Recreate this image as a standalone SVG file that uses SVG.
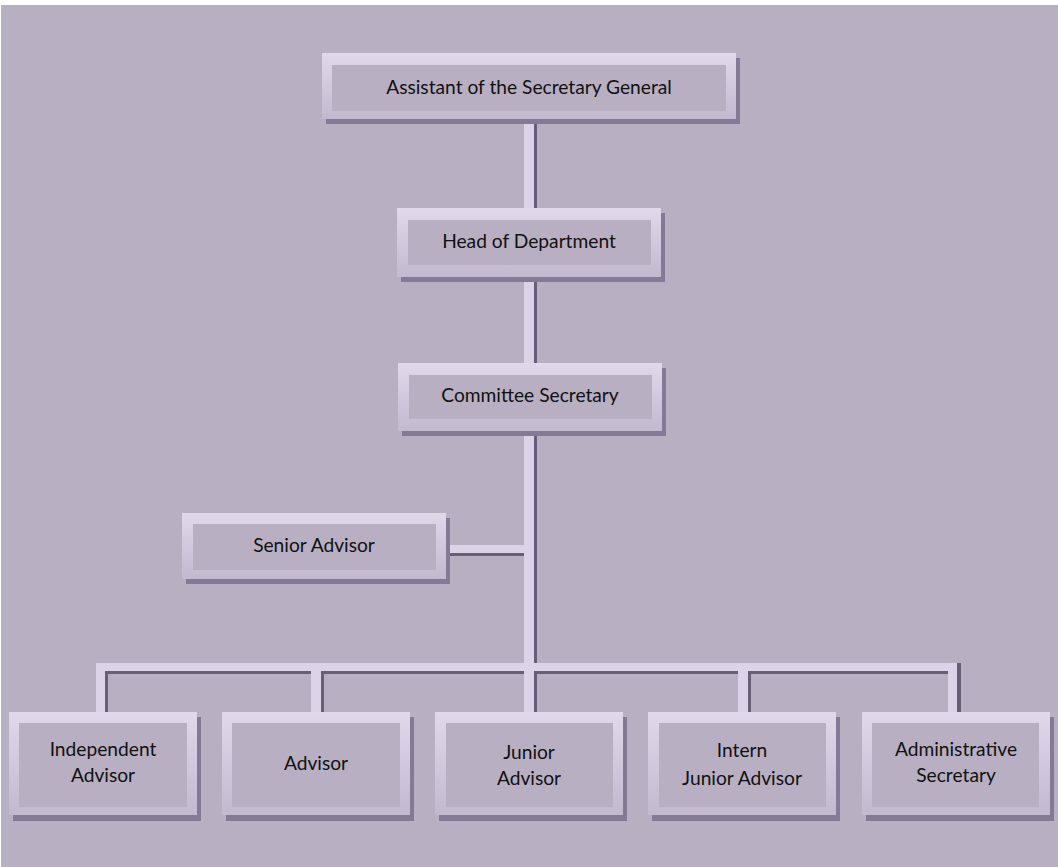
<svg xmlns="http://www.w3.org/2000/svg" width="1058" height="867" viewBox="0 0 1058 867">
<style>
.shadow{fill:#857a96}
.frame{fill:url(#fg)}
.inner{fill:#b8afc3}
.lt{fill:#ddd3e8}
.dk{fill:#695d78}
text{font-family:Lato,"Liberation Sans",sans-serif;font-size:19.2px;fill:#111;text-anchor:middle}
</style>
<defs>
<linearGradient id="fg" x1="0" y1="0" x2="0" y2="1">
<stop offset="0" stop-color="#e2d8ec"/>
<stop offset="1" stop-color="#c3b9cf"/>
</linearGradient>
</defs>
<rect x="1" y="5" width="1057" height="862" fill="#b8afc3"/>
<g id="connectors">
<rect class="dk" x="534" y="119" width="3" height="593"/>
<rect class="lt" x="524" y="119" width="10" height="593"/>
<rect class="dk" x="446" y="553" width="78" height="3"/>
<rect class="lt" x="446" y="545" width="78" height="8"/>
<rect class="dk" x="96" y="671" width="865" height="3"/>
<rect class="dk" x="105" y="663" width="3" height="49"/>
<rect class="dk" x="321" y="663" width="3" height="49"/>
<rect class="dk" x="748" y="663" width="3" height="49"/>
<rect class="dk" x="957" y="663" width="4" height="49"/>
<rect class="lt" x="96" y="663" width="861" height="8"/>
<rect class="lt" x="96" y="663" width="9" height="49"/>
<rect class="lt" x="311" y="663" width="10" height="49"/>
<rect class="lt" x="524" y="663" width="10" height="49"/>
<rect class="lt" x="738" y="663" width="10" height="49"/>
<rect class="lt" x="948" y="663" width="9" height="49"/>
</g>
<g id="n1">
<rect class="shadow" x="326" y="58" width="414" height="66"/>
<rect class="frame" x="322" y="53" width="414" height="66"/>
<rect class="inner" x="332" y="65" width="394" height="46"/>
<text x="529" y="94">Assistant of the Secretary General</text>
</g>
<g id="n2">
<rect class="shadow" x="401" y="213" width="264" height="69"/>
<rect class="frame" x="397" y="208" width="264" height="69"/>
<rect class="inner" x="408" y="220" width="243" height="45"/>
<text x="529" y="248">Head of Department</text>
</g>
<g id="n3">
<rect class="shadow" x="402" y="368" width="264" height="68"/>
<rect class="frame" x="398" y="363" width="264" height="68"/>
<rect class="inner" x="409" y="375" width="243" height="44"/>
<text x="530" y="402">Committee Secretary</text>
</g>
<g id="n4">
<rect class="shadow" x="186" y="518" width="264" height="66"/>
<rect class="frame" x="182" y="513" width="264" height="66"/>
<rect class="inner" x="193" y="524" width="243" height="46"/>
<text x="314" y="552">Senior Advisor</text>
</g>
<g id="n5">
<rect class="shadow" x="13" y="717" width="188" height="104"/>
<rect class="frame" x="9" y="712" width="188" height="103"/>
<rect class="inner" x="19" y="723" width="168" height="84"/>
<text x="103" y="756">Independent</text>
<text x="103" y="782">Advisor</text>
</g>
<g id="n6">
<rect class="shadow" x="226" y="717" width="188" height="104"/>
<rect class="frame" x="222" y="712" width="188" height="103"/>
<rect class="inner" x="232" y="723" width="168" height="84"/>
<text x="316" y="770">Advisor</text>
</g>
<g id="n7">
<rect class="shadow" x="439" y="717" width="188" height="104"/>
<rect class="frame" x="435" y="712" width="188" height="103"/>
<rect class="inner" x="446" y="723" width="167" height="84"/>
<text x="529" y="759">Junior</text>
<text x="529" y="785">Advisor</text>
</g>
<g id="n8">
<rect class="shadow" x="652" y="717" width="188" height="104"/>
<rect class="frame" x="648" y="712" width="188" height="103"/>
<rect class="inner" x="659" y="723" width="167" height="84"/>
<text x="742" y="757">Intern</text>
<text x="742" y="785">Junior Advisor</text>
</g>
<g id="n9">
<rect class="shadow" x="866" y="717" width="188" height="104"/>
<rect class="frame" x="862" y="712" width="188" height="103"/>
<rect class="inner" x="872" y="723" width="167" height="84"/>
<text x="956" y="756">Administrative</text>
<text x="956" y="782">Secretary</text>
</g>
</svg>
